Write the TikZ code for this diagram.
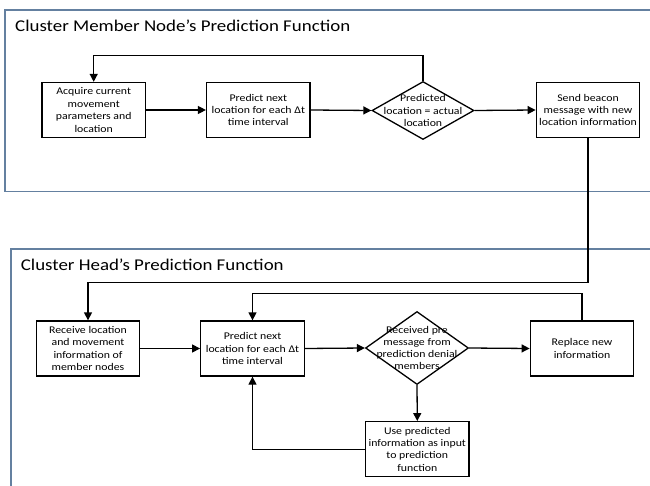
\documentclass[tikz,border=0pt]{standalone}
\usepackage{fontspec}
\setmainfont[FakeStretch=1.15]{Carlito}
\usetikzlibrary{arrows.meta,shapes.geometric}
\begin{document}
\begin{tikzpicture}[x=1bp,y=-1bp,
        process/.style={draw, line width=1.3bp, minimum width=103.5bp,
            minimum height=55bp, align=center, inner sep=1bp,
            font=\fontsize{10.3}{12.4}\selectfont},
        decision/.style={draw, diamond, line width=1.3bp, minimum width=102bp,
            minimum height=58bp, inner sep=0pt},
        dtext/.style={align=center, inner sep=0pt,
            font=\fontsize{10.3}{12.2}\selectfont},
        flow/.style={line width=1.3bp, -{Triangle[length=8bp,width=8bp]}},
        panel/.style={draw=panelcolor, line width=1.3bp},
        paneltitle/.style={anchor=base west, inner sep=0pt,
            font=\fontsize{16.5}{18}\selectfont}]
        % -- colour definitions --------------------------------------------------
        \definecolor{panelcolor}{RGB}{100,128,160}

        % -- frame ---------------------------------------------------------------
        \path[use as bounding box] (0,0) rectangle (650,486);
        \clip (0,0) rectangle (650,486);

        % -- panels --------------------------------------------------------------
        \draw[panel] (5,10) rectangle (664,191.7);
        \draw[panel] (11,249) rectangle (664,500);
        \node[paneltitle] (membertitle) at (15,31.5) {Cluster Member Node's Prediction Function};
        \node[paneltitle] (headtitle) at (20.7,270.5) {Cluster Head's Prediction Function};

        % -- cluster member node: steps ------------------------------------------
        \node[process] (acquire)  at (93.7,110) {Acquire current\\movement\\parameters and\\location};
        \node[process] (predictA) at (258.3,110) {Predict next\\location for each Δt\\time interval};
        \node[decision] (checkA)  at (423,110.5) {};
        \node[dtext] (checkAtext) at (checkA) {Predicted\\location = actual\\location};
        \node[process] (send)     at (588,110) {Send beacon\\message with new\\location information};

        % -- cluster head: steps -------------------------------------------------
        \node[process] (receive)  at (88,348.5) {Receive location\\and movement\\information of\\member nodes};
        \node[process] (predictB) at (252.5,348.5) {Predict next\\location for each Δt\\time interval};
        \node[decision, minimum width=103bp, minimum height=73bp] (checkB) at (417,348) {};
        \node[dtext] (checkBtext) at (checkB) {Received pre\\message from\\prediction denial\\members};
        \node[process] (replace)  at (582,348.5) {Replace new\\information};
        \node[process] (reuse)    at (417.3,449.2) {Use predicted\\information as input\\to prediction\\function};

        % -- connectors ----------------------------------------------------------
        \coordinate (drop) at (0,282.7);
        \draw[flow] (acquire.east) -- (predictA.west);
        \draw[flow] (predictA.east) -- (checkA.west);
        \draw[flow] (checkA.east) -- (send.west);
        \draw[flow] (checkA.north) -- ++(0,-25) -| (acquire.north);
        \draw[flow] (send.south) |- (receive.north |- drop) -- (receive.north);
        \draw[flow] (receive.east) -- (predictB.west);
        \draw[flow] (predictB.east) -- (checkB.west);
        \draw[flow] (checkB.east) -- (replace.west);
        \draw[flow] (replace.north) -- ++(0,-26.7) -| (predictB.north);
        \draw[flow] (checkB.south) -- (reuse.north);
        \draw[flow] (reuse.west) -| (predictB.south);
    \end{tikzpicture}
\end{document}
